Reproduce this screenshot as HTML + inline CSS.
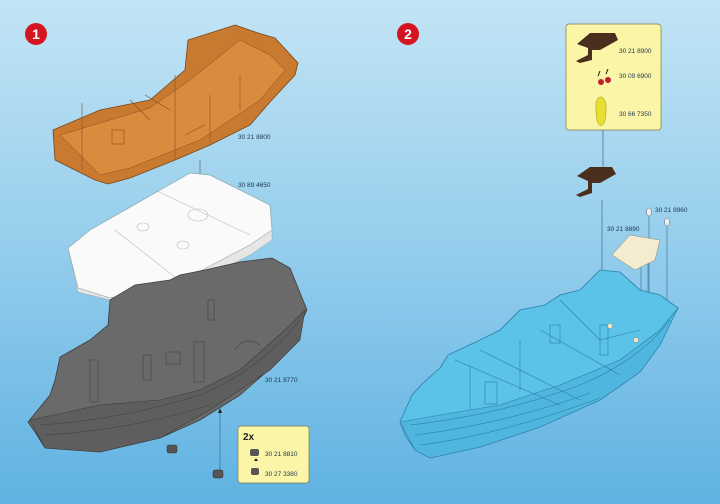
<!DOCTYPE html>
<html><head><meta charset="utf-8"><style>
html,body{margin:0;padding:0;width:720px;height:504px;overflow:hidden}
text{font-family:"Liberation Sans",sans-serif;font-size:6.5px;fill:#1d3550}
</style></head><body>
<svg width="720" height="504" viewBox="0 0 720 504" xmlns="http://www.w3.org/2000/svg">
<defs>
<linearGradient id="bg" x1="0" y1="0" x2="0" y2="1">
<stop offset="0" stop-color="#c2e4f5"/><stop offset="0.5" stop-color="#94cdec"/><stop offset="1" stop-color="#5fb2e2"/>
</linearGradient>
</defs>
<rect width="720" height="504" fill="url(#bg)"/>

<!-- badges -->
<circle cx="36" cy="34" r="11" fill="#d4141f"/><text x="36" y="39" text-anchor="middle" style="font-size:14px;font-weight:bold;fill:#fff">1</text>
<circle cx="408" cy="34" r="11" fill="#d4141f"/><text x="408" y="39" text-anchor="middle" style="font-size:14px;font-weight:bold;fill:#fff">2</text>

<!-- connector lines left -->
<line x1="200" y1="160" x2="200" y2="290" stroke="#555" stroke-width="0.6"/>
<line x1="200" y1="300" x2="200" y2="345" stroke="#eee" stroke-width="0.6"/>
<line x1="220" y1="410" x2="220" y2="470" stroke="#3a6d8f" stroke-width="0.7"/>

<!-- orange deck -->
<polygon points="53,130 100,110 150,100 185,70 188,40 235,25 258,33 275,38 298,63 295,75 270,102 250,125 210,145 175,160 130,178 108,184 95,180 55,160" fill="#c87a30" stroke="#7a4515" stroke-width="0.8"/>
<polygon points="60,135 150,108 190,80 240,40 270,55 285,70 260,100 200,140 130,168 100,175" fill="#d98b3e" stroke="#8a5020" stroke-width="0.5"/>
<g stroke="#8a5020" stroke-width="0.6" fill="none">
<line x1="82" y1="103" x2="82" y2="170"/><line x1="175" y1="75" x2="175" y2="160"/><line x1="210" y1="95" x2="210" y2="143"/>
<line x1="130" y1="100" x2="150" y2="120"/><line x1="145" y1="95" x2="170" y2="110"/><line x1="185" y1="135" x2="205" y2="125"/>
<rect x="112" y="130" width="12" height="14"/><line x1="240" y1="75" x2="240" y2="110"/>
</g>
<text x="238" y="139">30 21 8800</text>

<!-- white tray -->
<polygon points="90,230 190,173 210,175 270,205 272,230 250,245 170,287 110,298 78,288 68,248" fill="#fafafa" stroke="#8aa" stroke-width="0.7"/>
<polygon points="68,248 78,288 110,298 170,287 250,245 272,230 272,240 250,255 170,296 110,300 78,292" fill="#e6e6e6" stroke="#9aa" stroke-width="0.5"/>
<g stroke="#bbb" stroke-width="0.6" fill="none">
<line x1="155" y1="190" x2="250" y2="235"/><line x1="115" y1="230" x2="185" y2="285"/>
<ellipse cx="198" cy="215" rx="10" ry="6"/><ellipse cx="143" cy="227" rx="6" ry="4"/><ellipse cx="183" cy="245" rx="6" ry="4"/>
</g>
<text x="238" y="187">30 89 4650</text>

<!-- gray hull -->
<polygon points="28,422 50,395 55,380 60,357 90,340 108,325 110,300 135,285 170,280 180,275 205,270 240,262 272,258 290,268 307,310 295,335 280,360 240,395 200,420 160,438 100,452 45,448 35,432" fill="#6a6a6a" stroke="#3d3d3d" stroke-width="0.8"/>
<polygon points="30,420 100,405 160,400 200,390 240,370 285,330 305,310 300,340 270,370 210,410 160,438 100,452 45,448" fill="#5e5e5e" stroke="#3d3d3d" stroke-width="0.6"/>
<g stroke="#444" stroke-width="0.6" fill="none">
<path d="M40,425 Q120,420 200,395 Q260,370 300,320"/><path d="M45,435 Q130,430 210,405"/>
<rect x="90" y="360" width="8" height="42"/><rect x="194" y="342" width="10" height="40"/><rect x="143" y="355" width="8" height="25"/>
<rect x="166" y="352" width="14" height="12"/><rect x="208" y="300" width="6" height="20"/><path d="M235,350 Q245,335 260,345"/>
</g>
<text x="265" y="382">30 21 8770</text>
<g fill="#555" stroke="#333" stroke-width="0.5"><rect x="167" y="445" width="10" height="8" rx="2"/><rect x="213" y="470" width="10" height="8" rx="2"/></g>
<polygon points="218,413 220,408 222,413" fill="#222"/>

<!-- yellow box left -->
<rect x="238" y="426" width="71" height="57" rx="3" fill="#fbf5a8" stroke="#7a7a50" stroke-width="0.7"/>
<text x="243" y="440" style="font-size:10px;font-weight:bold;fill:#222">2x</text>
<rect x="250" y="449" width="9" height="7" rx="2" fill="#555"/><rect x="251" y="468" width="8" height="7" rx="2" fill="#555"/>
<polygon points="254,461 256,458 258,461" fill="#222"/>
<text x="265" y="456">30 21 8810</text><text x="265" y="476">30 27 3380</text>

<!-- yellow box right -->
<rect x="566" y="24" width="95" height="106" rx="3" fill="#fbf5a8" stroke="#7a7a50" stroke-width="0.7"/>
<polygon points="577,44 590,33 615,33 618,40 600,50 592,50 592,60 580,63 576,61 588,55 588,48" fill="#4a2f1e"/>
<g fill="#c0202a"><circle cx="601" cy="82" r="3"/><circle cx="608" cy="80" r="3"/></g>
<path d="M598,76 l2,-5 M606,74 l2,-5" stroke="#111" stroke-width="1"/>
<path d="M596,102 Q598,96 602,97 Q607,100 606,112 Q606,124 601,126 Q596,124 596,112 Z" fill="#e8e030" stroke="#9a9020" stroke-width="0.5"/>
<text x="619" y="53">30 21 8900</text><text x="619" y="78">30 09 6900</text><text x="619" y="116">30 66 7350</text>

<!-- right connectors -->
<line x1="603" y1="130" x2="603" y2="168" stroke="#3a6d8f" stroke-width="0.7"/>
<line x1="602" y1="200" x2="602" y2="325" stroke="#3a6d8f" stroke-width="0.7"/>
<line x1="649" y1="216" x2="649" y2="305" stroke="#3a6d8f" stroke-width="0.6"/>
<line x1="667" y1="225" x2="667" y2="310" stroke="#3a6d8f" stroke-width="0.6"/>
<line x1="641" y1="255" x2="641" y2="330" stroke="#3a6d8f" stroke-width="0.6"/>
<line x1="648" y1="255" x2="648" y2="300" stroke="#3a6d8f" stroke-width="0.6"/>
<polygon points="577,176 590,167 612,167 616,174 600,183 592,183 592,193 580,197 576,195 588,189 588,181" fill="#4a2f1e"/>
<g fill="#eee" stroke="#666" stroke-width="0.5"><ellipse cx="649" cy="212" rx="2.5" ry="4"/><ellipse cx="667" cy="222" rx="2.5" ry="4"/></g>
<text x="655" y="212">30 21 8960</text><text x="607" y="231">30 21 8890</text>
<polygon points="612,255 630,235 660,240 655,260 635,270" fill="#f3ecd0" stroke="#8a8a70" stroke-width="0.5"/>

<!-- blue hull -->
<polygon points="400,422 412,395 423,383 440,368 448,355 480,340 500,330 520,310 545,305 560,295 580,290 600,270 620,272 640,290 660,295 678,308 672,320 660,345 640,372 600,400 540,427 480,447 430,458 415,450 405,435" fill="#5bc2e8" stroke="#2a7fa8" stroke-width="0.8"/>
<polygon points="400,422 440,415 500,405 560,385 620,360 660,330 678,308 660,345 640,372 600,400 540,427 480,447 430,458 415,450" fill="#4fb6df" stroke="#2a7fa8" stroke-width="0.6"/>
<g stroke="#2a7fa8" stroke-width="0.6" fill="none">
<path d="M410,425 Q500,415 580,385 Q640,360 670,320"/><path d="M415,435 Q500,425 590,393"/><path d="M420,445 Q500,435 600,398"/>
<path d="M455,360 L560,405"/><path d="M480,350 L580,400"/><path d="M540,330 L620,375"/><path d="M560,300 L600,340 L640,330"/>
<rect x="485" y="382" width="12" height="22"/><rect x="550" y="325" width="10" height="18"/><rect x="600" y="325" width="8" height="30"/>
<line x1="520" y1="340" x2="520" y2="390"/><line x1="470" y1="365" x2="470" y2="410"/>
</g>
<g fill="#f3e8c0" stroke="#777" stroke-width="0.4"><circle cx="610" cy="326" r="2.5"/><circle cx="636" cy="340" r="2.5"/></g>
</svg>
</body></html>
